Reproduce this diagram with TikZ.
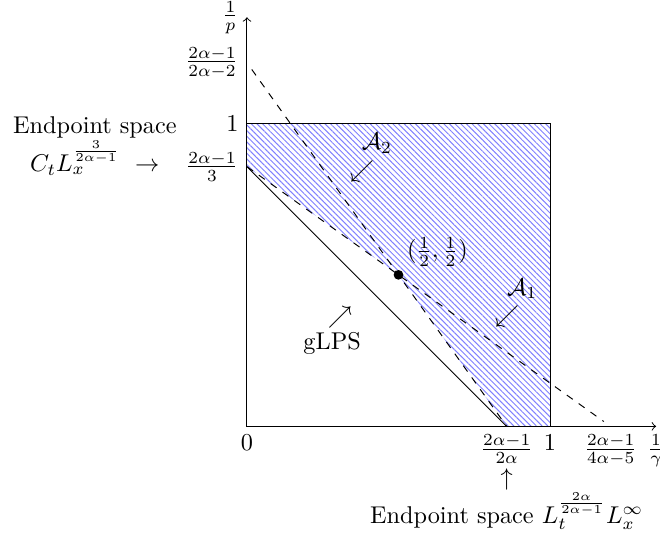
\documentclass[tikz,border=0pt]{standalone}
\usepackage{amsmath}
\usepackage{amssymb}
\usetikzlibrary{patterns.meta,positioning,calc}

\begin{document}
\begin{tikzpicture}[
    x=4.39cm, y=4.39cm,
    % --- STYLES ---
    axis/.style={->, draw=black},
    region/.style={
        pattern={Lines[angle=-45, distance=1.65pt, line width=0.4pt]},
        pattern color=blue!50
    },
    bound/.style={dashed},
    dot/.style={circle, fill=black, inner sep=0pt, minimum size=4pt}
]
\useasboundingbox (-0.815,-0.358) rectangle (1.363,1.407);

% ===== 1. COORDINATES =====
\def\ya{0.857} % (2a-1)/3 and (2a-1)/(2a)
\def\yb{1.2}   % (2a-1)/(2a-2) and (2a-1)/(4a-5)

\coordinate (O) at (0,0);
\coordinate (xtip) at (1.35,0);
\coordinate (ytip) at (0,1.35);
\coordinate (ya) at (0,\ya);
\coordinate (yb) at (0,\yb);
\coordinate (xa) at (\ya,0);
\coordinate (xb) at (\yb,0);

% ===== 2. REGION & BOX =====
\fill[region] (ya) -- (0.5,0.5) -- (xa) -- (1,0) -- (1,1) -- (0,1) -- cycle;
\draw (O) rectangle (1,1);

% ===== 3. AXES =====
\draw[axis] (O) -- (xtip) node[below] (lgamma) {$\frac{1}{\gamma}$};
\draw[axis] (O) -- (ytip) node[left] (lp) {$\frac{1}{p}$};

% ===== 4. LINES =====
\draw (ya) -- (xa);
\draw[bound, shorten <=0.12cm] (yb) -- (xa);
\draw[bound, shorten >=0.12cm] (ya) -- (xb);

% ===== 5. TICK LABELS =====
\node[below] (l0) at (O) {$0$};
\node[below] (l1x) at (1,0) {$1$};
\node[below] (lxa) at (xa) {$\frac{2\alpha-1}{2\alpha}$};
\node[below] (lxb) at (xb) {$\frac{2\alpha-1}{4\alpha-5}$};
\node[left] (l1y) at (0,1) {$1$};
\node[left] (lya) at (ya) {$\frac{2\alpha-1}{3}$};
\node[left] (lyb) at (yb) {$\frac{2\alpha-1}{2\alpha-2}$};

% ===== 6. ANNOTATIONS =====
\node[dot] (half) at (0.5,0.5) {};
\node[above right] (lhalf) at (half) {$(\frac{1}{2},\frac{1}{2})$};

\node (A1) at (0.908,0.454) {$\mathcal{A}_1$};
\node (A1arr) at (0.858,0.364) {$\swarrow$};
\node (A2) at (0.429,0.934) {$\mathcal{A}_2$};
\node (A2arr) at (0.380,0.841) {$\swarrow$};
\node (glps) at (0.281,0.272) {gLPS};
\node (glpsarr) at (0.307,0.361) {$\nearrow$};

% Endpoint spaces
\node[align=center] (endL) at (-0.502,0.925) {Endpoint space\\ $C_tL_x^{\frac{3}{2\alpha-1}}\ \rightarrow$};
\node[below=-5pt of lxa] (uparr) {$\uparrow$};
\node[below=-6pt of uparr] (endB) {Endpoint space $L_t^{\frac{2\alpha}{2\alpha-1}}L_x^{\infty}$};

\end{tikzpicture}
\end{document}
